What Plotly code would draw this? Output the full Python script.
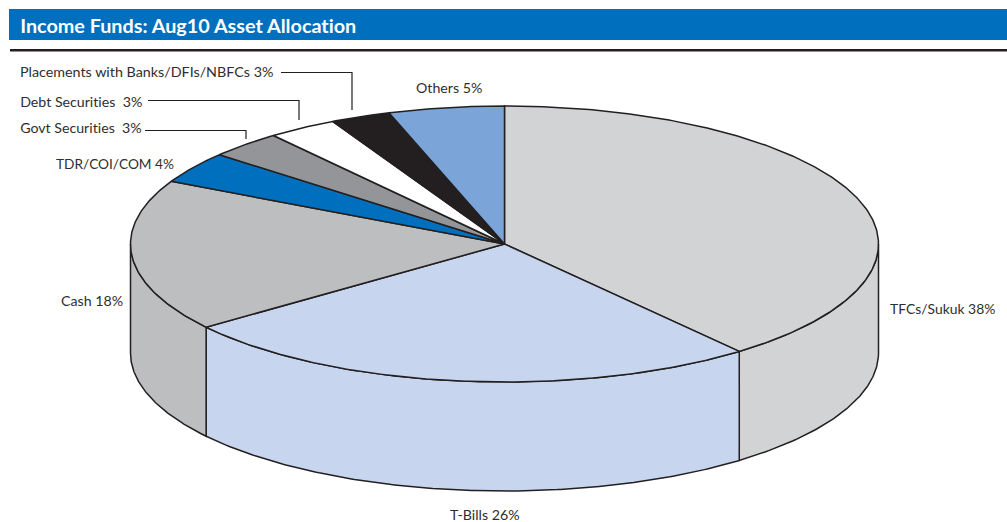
import numpy as np
import plotly.graph_objects as go

# Data
categories = ["TFCs/Sukuk", "T-Bills", "Cash", "TDR/COI/COM", "Govt Securities",
              "Debt Securities", "Placements with Banks/DFIs/NBFCs", "Others"]
label_percent = [38, 26, 18, 4, 3, 3, 3, 5]
drawn_share = [39.2, 25.5, 17.8, 3.7, 3.2, 3.0, 2.6, 5.0]
colors = ["#D1D3D4", "#C7D5EF", "#BCBEC0", "#0070BE", "#939598", "#FFFFFF", "#231F20", "#7BA5D8"]
label_text = ["TFCs/Sukuk 38%", "T-Bills 26%", "Cash 18%", "TDR/COI/COM 4%", "Govt Securities  3%",
              "Debt Securities  3%", "Placements with Banks/DFIs/NBFCs 3%", "Others 5%"]
title = "Income Funds: Aug10 Asset Allocation"

# Pie geometry (pixel-valued axes)
CX, CY, RX, RY, DEPTH = 504.5, 244.0, 374.0, 138.0, 109.0
W, H = 1007, 522
INK = "#231F20"
TEXT = "#2E2E30"


def rim(a0, a1, dy=0.0):
    t = np.radians(np.linspace(a0, a1, max(3, int(abs(a1 - a0) * 2))))
    return CX + RX * np.sin(t), CY - RY * np.cos(t) + dy


fig = go.Figure()
edges = np.cumsum([0] + drawn_share) * 3.6

# Side walls (only the front half of the rim, 90 to 270 degrees)
for i, cat in enumerate(categories):
    a0, a1 = max(edges[i], 90), min(edges[i + 1], 270)
    if a1 <= a0:
        continue
    xt, yt = rim(a0, a1)
    xb, yb = rim(a1, a0, DEPTH)
    fig.add_trace(go.Scatter(
        x=np.r_[xt, xb, xt[0]], y=np.r_[yt, yb, yt[0]], mode="lines", fill="toself",
        fillcolor=colors[i], line=dict(color=INK, width=1.5), hoverinfo="skip", showlegend=False))

# Top face
for i, cat in enumerate(categories):
    xt, yt = rim(edges[i], edges[i + 1])
    fig.add_trace(go.Scatter(
        x=np.r_[CX, xt, CX], y=np.r_[CY, yt, CY], mode="lines", fill="toself",
        fillcolor=colors[i], line=dict(color=INK, width=1.5), name=cat,
        text=f"{cat} {label_percent[i]}%", hoverinfo="text", showlegend=False))

shapes = [
    dict(type="rect", x0=9, x1=1007, y0=9, y1=40, fillcolor="#0070BE", line=dict(width=0), layer="below"),
    dict(type="rect", x0=10, x1=1007, y0=49, y1=51.5, fillcolor="#231F20", line=dict(width=0), layer="below"),
]
leaders = [
    "M 281 72.5 L 352 72.5 L 352 110",
    "M 148 100.5 L 299 100.5 L 299 120",
    "M 145 130.5 L 246 130.5 L 246 139",
]
for p in leaders:
    shapes.append(dict(type="path", path=p, line=dict(color=INK, width=1.2)))


def note(text, x, y, size=14.2, color=TEXT, bold=False):
    return dict(text=f"<b>{text}</b>" if bold else text, x=x, y=y, xref="x", yref="y",
                xanchor="left", yanchor="middle", showarrow=False,
                font=dict(family="Lato, Carlito, sans-serif", size=size, color=color))


annotations = [
    note(title, 18, 25, size=19.8, color="#FFFFFF", bold=True),
    note(label_text[0], 888, 308, size=13.9),
    note(label_text[1], 448, 514),
    note(label_text[2], 59, 300),
    note(label_text[3], 54, 163, size=13.7),
    note(label_text[4], 18, 127),
    note(label_text[5], 18, 101),
    note(label_text[6], 18, 71, size=14.3),
    note(label_text[7], 414, 87),
]

fig.update_layout(
    width=W, height=H, autosize=False, margin=dict(l=0, r=0, t=0, b=0),
    paper_bgcolor="white", plot_bgcolor="white", showlegend=False,
    xaxis=dict(range=[0, W], visible=False, fixedrange=True),
    yaxis=dict(range=[H, 0], visible=False, fixedrange=True),
    shapes=shapes, annotations=annotations,
)
fig.write_html(
    "out.html", config={"displayModeBar": False, "responsive": False},
    post_script="document.body.style.margin='0';document.body.style.overflow='hidden';"
                "var s=document.createElement('style');"
                "s.textContent=\"svg text{font-variant-ligatures:none !important;"
                "font-feature-settings:'liga' 0 !important;}\";"
                "document.head.appendChild(s);",
)
